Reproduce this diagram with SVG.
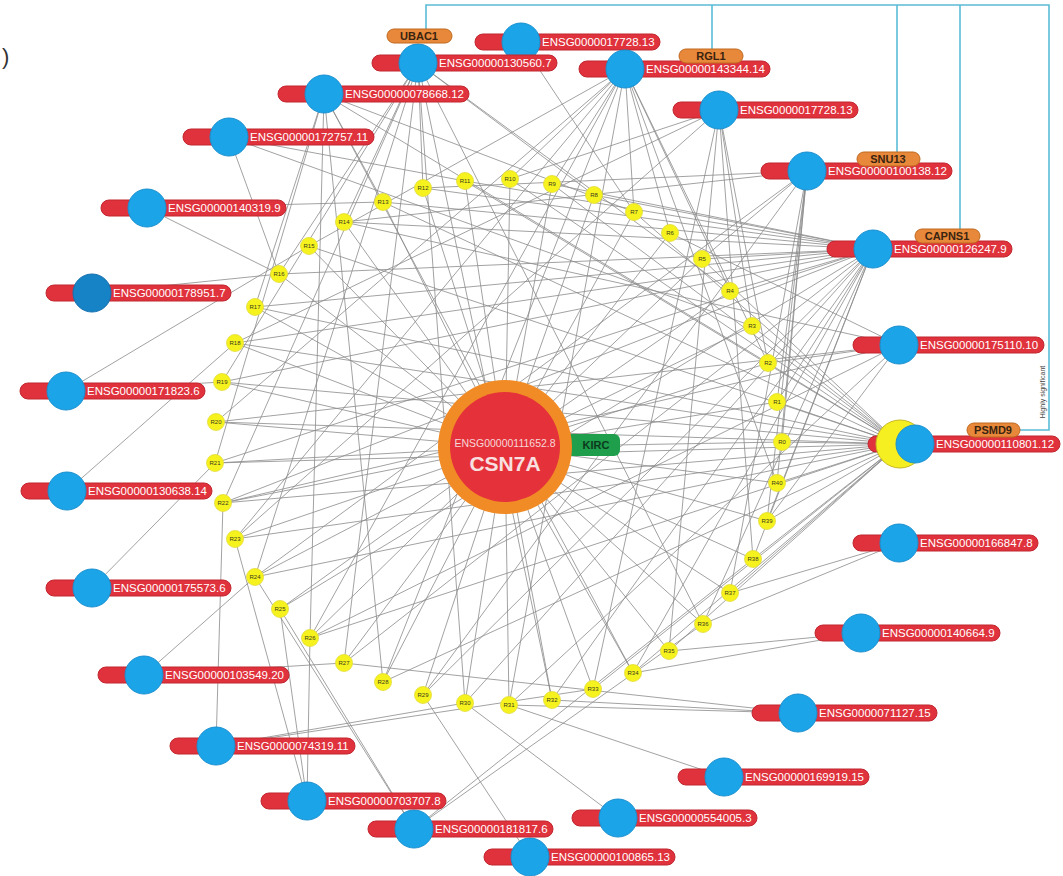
<svg xmlns="http://www.w3.org/2000/svg" width="1063" height="876" viewBox="0 0 1063 876">
<style>
  .e{stroke:#8a8a8a;stroke-width:0.8;fill:none}
  .pill{fill:#e0323c;stroke:#c1262f;stroke-width:1}
  .gc{fill:#1ba5e8;stroke:#1a8fcf;stroke-width:1}
  .gt{font-family:"Liberation Sans",Arial,sans-serif;font-size:11.5px;fill:#ffffff}
  .rn{fill:#f6f21e;stroke:#e2dc3a;stroke-width:0.8}
  .rt{font-family:"Liberation Sans",Arial,sans-serif;font-size:6px;fill:#3a3a1a;text-anchor:middle}
  .tag{fill:#e8883a;stroke:#c0681f;stroke-width:1}
  .tt{font-family:"Liberation Sans",Arial,sans-serif;font-size:11px;font-weight:bold;fill:#3a2410;text-anchor:middle}
  .sig{stroke:#5bbcd6;stroke-width:1.6;fill:none}
</style>
<rect width="1063" height="876" fill="#ffffff"/>
<text x="2" y="64" font-family="Liberation Sans, Arial, sans-serif" font-size="22" fill="#333">)</text>

<!-- connectors -->
<g id="connectors">
  <path class="e" id="e-csn7a" d="M505 447L782 442M505 447L777 402M505 447L768 363M505 447L752 326M505 447L730 291M505 447L702 259M505 447L670 233M505 447L634 212M505 447L594 195M505 447L552 184M505 447L510 179M505 447L465 181M505 447L423 188M505 447L383 202M505 447L344 222M505 447L309 246M505 447L279 274M505 447L255 307M505 447L235 343M505 447L222 382M505 447L216 422M505 447L215 463M505 447L223 503M505 447L235 539M505 447L255 577M505 447L280 609M505 447L310 638M505 447L344 663M505 447L383 682M505 447L423 695M505 447L465 703M505 447L509 705M505 447L552 700M505 447L593 689M505 447L633 673M505 447L669 651M505 447L703 624M505 447L730 593M505 447L753 559M505 447L767 521M505 447L777 483"/>
  <path class="e" id="e-g1" d="M418 63L344 222M418 63L279 274M418 63L222 382M418 63L255 577M418 63L344 663M418 63L465 703M418 63L552 700M418 63L703 624M418 63L730 291M418 63L594 195M418 63L423 188M418 63L223 503"/>
  <path class="e" id="e-g2" d="M521 42L634 212"/>
  <path class="e" id="e-g3" d="M625 69L552 184M625 69L510 179M625 69L634 212M625 69L730 291M625 69L670 233M625 69L768 363M625 69L216 422M625 69L383 682M625 69L509 705M625 69L310 638M625 69L777 483M625 69L309 246M625 69L235 539"/>
  <path class="e" id="e-g4" d="M719 110L752 326M719 110L768 363M719 110L753 559M719 110L669 651M719 110L235 343M719 110L510 179M719 110L235 539M719 110L593 689"/>
  <path class="e" id="e-g5" d="M807 171L782 442M807 171L777 402M807 171L777 483M807 171L767 521M807 171L344 222M807 171L423 188M807 171L255 577M807 171L423 695M807 171L702 259M807 171L730 593"/>
  <path class="e" id="e-g6" d="M873 249L777 402M873 249L730 291M873 249L702 259M873 249L594 195M873 249L552 184M873 249L465 181M873 249L423 188M873 249L383 202M873 249L344 222M873 249L279 274M873 249L255 307M873 249L235 343M873 249L222 382M873 249L215 463M873 249L223 503M873 249L280 609M873 249L344 663M873 249L423 695M873 249L552 700M873 249L703 624M873 249L753 559M873 249L767 521M873 249L465 703M873 249L633 673"/>
  <path class="e" id="e-g7" d="M899 345L768 363M899 345L670 233M899 345L216 422M899 345L310 638M899 345L767 521M899 345L344 222M899 345L223 503M899 345L509 705"/>
  <path class="e" id="e-g8" d="M900 444L782 442M900 444L777 402M900 444L768 363M900 444L752 326M900 444L510 179M900 444L383 202M900 444L309 246M900 444L255 307M900 444L235 343M900 444L222 382M900 444L216 422M900 444L215 463M900 444L223 503M900 444L235 539M900 444L255 577M900 444L310 638M900 444L383 682M900 444L593 689M900 444L633 673M900 444L669 651M900 444L730 593M900 444L753 559M900 444L767 521M900 444L777 483M900 444L552 184M900 444L634 212M900 444L702 259M900 444L465 181"/>
  <path class="e" id="e-g9" d="M899 543L703 624M899 543L730 593"/>
  <path class="e" id="e-g10" d="M861 633L633 673M861 633L669 651"/>
  <path class="e" id="e-g11" d="M798 713L344 663M798 713L509 705M798 713L552 700"/>
  <path class="e" id="e-g12" d="M724 777L509 705"/>
  <path class="e" id="e-g13" d="M618 818L465 703"/>
  <path class="e" id="e-g14" d="M530 857L423 695"/>
  <path class="e" id="e-g15" d="M414 829L280 609M414 829L255 577M414 829L703 624M414 829L753 559"/>
  <path class="e" id="e-g16" d="M307 801L280 609M307 801L310 638M307 801L235 539"/>
  <path class="e" id="e-g17" d="M216 746L223 503M216 746L465 703M216 746L593 689"/>
  <path class="e" id="e-g18" d="M144 675L255 577M144 675L344 663"/>
  <path class="e" id="e-g19" d="M92 588L215 463"/>
  <path class="e" id="e-g20" d="M67 491L235 343"/>
  <path class="e" id="e-g21" d="M66 391L309 246M66 391L222 382"/>
  <path class="e" id="e-g22" d="M92 293L279 274"/>
  <path class="e" id="e-g23" d="M147 208L279 274M147 208L383 202"/>
  <path class="e" id="e-g24" d="M229 137L279 274M229 137L752 326M229 137L465 181"/>
  <path class="e" id="e-g25" d="M324 94L255 307M324 94L215 463M324 94L310 638M324 94L383 682M324 94L633 673M324 94L634 212M324 94L768 363M324 94L383 202"/>
</g>

<!-- significance bracket -->
<g id="bracket">
  <path class="sig" d="M426 29V5H1049V430H1020M712 5V49M897 5V152M960 5V229"/>
  <text transform="translate(1045,392) rotate(-90)" font-family="Liberation Sans, Arial, sans-serif" font-size="7" fill="#444" text-anchor="middle">Highly significant</text>
</g>

<!-- R nodes -->
<g id="r-nodes">
  <g id="R0"><circle class="rn" cx="782" cy="442" r="8.5"/><text class="rt" x="782" y="444">R0</text></g>
  <g id="R1"><circle class="rn" cx="777" cy="402" r="8.5"/><text class="rt" x="777" y="404">R1</text></g>
  <g id="R2"><circle class="rn" cx="768" cy="363" r="8.5"/><text class="rt" x="768" y="365">R2</text></g>
  <g id="R3"><circle class="rn" cx="752" cy="326" r="8.5"/><text class="rt" x="752" y="328">R3</text></g>
  <g id="R4"><circle class="rn" cx="730" cy="291" r="8.5"/><text class="rt" x="730" y="293">R4</text></g>
  <g id="R5"><circle class="rn" cx="702" cy="259" r="8.5"/><text class="rt" x="702" y="261">R5</text></g>
  <g id="R6"><circle class="rn" cx="670" cy="233" r="8.5"/><text class="rt" x="670" y="235">R6</text></g>
  <g id="R7"><circle class="rn" cx="634" cy="212" r="8.5"/><text class="rt" x="634" y="214">R7</text></g>
  <g id="R8"><circle class="rn" cx="594" cy="195" r="8.5"/><text class="rt" x="594" y="197">R8</text></g>
  <g id="R9"><circle class="rn" cx="552" cy="184" r="8.5"/><text class="rt" x="552" y="186">R9</text></g>
  <g id="R10"><circle class="rn" cx="510" cy="179" r="8.5"/><text class="rt" x="510" y="181">R10</text></g>
  <g id="R11"><circle class="rn" cx="465" cy="181" r="8.5"/><text class="rt" x="465" y="183">R11</text></g>
  <g id="R12"><circle class="rn" cx="423" cy="188" r="8.5"/><text class="rt" x="423" y="190">R12</text></g>
  <g id="R13"><circle class="rn" cx="383" cy="202" r="8.5"/><text class="rt" x="383" y="204">R13</text></g>
  <g id="R14"><circle class="rn" cx="344" cy="222" r="8.5"/><text class="rt" x="344" y="224">R14</text></g>
  <g id="R15"><circle class="rn" cx="309" cy="246" r="8.5"/><text class="rt" x="309" y="248">R15</text></g>
  <g id="R16"><circle class="rn" cx="279" cy="274" r="8.5"/><text class="rt" x="279" y="276">R16</text></g>
  <g id="R17"><circle class="rn" cx="255" cy="307" r="8.5"/><text class="rt" x="255" y="309">R17</text></g>
  <g id="R18"><circle class="rn" cx="235" cy="343" r="8.5"/><text class="rt" x="235" y="345">R18</text></g>
  <g id="R19"><circle class="rn" cx="222" cy="382" r="8.5"/><text class="rt" x="222" y="384">R19</text></g>
  <g id="R20"><circle class="rn" cx="216" cy="422" r="8.5"/><text class="rt" x="216" y="424">R20</text></g>
  <g id="R21"><circle class="rn" cx="215" cy="463" r="8.5"/><text class="rt" x="215" y="465">R21</text></g>
  <g id="R22"><circle class="rn" cx="223" cy="503" r="8.5"/><text class="rt" x="223" y="505">R22</text></g>
  <g id="R23"><circle class="rn" cx="235" cy="539" r="8.5"/><text class="rt" x="235" y="541">R23</text></g>
  <g id="R24"><circle class="rn" cx="255" cy="577" r="8.5"/><text class="rt" x="255" y="579">R24</text></g>
  <g id="R25"><circle class="rn" cx="280" cy="609" r="8.5"/><text class="rt" x="280" y="611">R25</text></g>
  <g id="R26"><circle class="rn" cx="310" cy="638" r="8.5"/><text class="rt" x="310" y="640">R26</text></g>
  <g id="R27"><circle class="rn" cx="344" cy="663" r="8.5"/><text class="rt" x="344" y="665">R27</text></g>
  <g id="R28"><circle class="rn" cx="383" cy="682" r="8.5"/><text class="rt" x="383" y="684">R28</text></g>
  <g id="R29"><circle class="rn" cx="423" cy="695" r="8.5"/><text class="rt" x="423" y="697">R29</text></g>
  <g id="R30"><circle class="rn" cx="465" cy="703" r="8.5"/><text class="rt" x="465" y="705">R30</text></g>
  <g id="R31"><circle class="rn" cx="509" cy="705" r="8.5"/><text class="rt" x="509" y="707">R31</text></g>
  <g id="R32"><circle class="rn" cx="552" cy="700" r="8.5"/><text class="rt" x="552" y="702">R32</text></g>
  <g id="R33"><circle class="rn" cx="593" cy="689" r="8.5"/><text class="rt" x="593" y="691">R33</text></g>
  <g id="R34"><circle class="rn" cx="633" cy="673" r="8.5"/><text class="rt" x="633" y="675">R34</text></g>
  <g id="R35"><circle class="rn" cx="669" cy="651" r="8.5"/><text class="rt" x="669" y="653">R35</text></g>
  <g id="R36"><circle class="rn" cx="703" cy="624" r="8.5"/><text class="rt" x="703" y="626">R36</text></g>
  <g id="R37"><circle class="rn" cx="730" cy="593" r="8.5"/><text class="rt" x="730" y="595">R37</text></g>
  <g id="R38"><circle class="rn" cx="753" cy="559" r="8.5"/><text class="rt" x="753" y="561">R38</text></g>
  <g id="R39"><circle class="rn" cx="767" cy="521" r="8.5"/><text class="rt" x="767" y="523">R39</text></g>
  <g id="R40"><circle class="rn" cx="777" cy="483" r="8.5"/><text class="rt" x="777" y="485">R40</text></g>
</g>

<!-- central gene -->
<g id="csn7a">
  <rect x="560" y="434" width="60" height="22" rx="6" fill="#1f9e4c"/>
  <text x="596" y="449" font-family="Liberation Sans, Arial, sans-serif" font-size="11" font-weight="bold" fill="#0c3a1c" text-anchor="middle">KIRC</text>
  <circle cx="505" cy="447" r="67" fill="#f08b26"/>
  <circle cx="505" cy="447" r="55" fill="#e5323a"/>
  <text x="505" y="447" font-family="Liberation Sans, Arial, sans-serif" font-size="10.5" fill="#f6d8d8" text-anchor="middle">ENSG00000111652.8</text>
  <text x="505" y="471" font-family="Liberation Sans, Arial, sans-serif" font-size="21" font-weight="bold" fill="#f8e0e0" text-anchor="middle">CSN7A</text>
</g>

<!-- gene nodes (g2 first so the g1 label stays on top) -->
<g id="g2"><rect class="pill" x="475" y="34" width="185" height="16" rx="8"/><circle class="gc" cx="521" cy="42" r="19"/><text class="gt" x="542" y="46">ENSG0000017728.13</text></g>
<g id="g1"><rect class="pill" x="372" y="55" width="185" height="16" rx="8"/><circle class="gc" cx="418" cy="63" r="19"/><text class="gt" x="439" y="67">ENSG00000130560.7</text></g>
<g id="g3"><rect class="pill" x="579" y="61" width="191" height="16" rx="8"/><circle class="gc" cx="625" cy="69" r="19"/><text class="gt" x="646" y="73">ENSG00000143344.14</text></g>
<g id="g4"><rect class="pill" x="673" y="102" width="185" height="16" rx="8"/><circle class="gc" cx="719" cy="110" r="19"/><text class="gt" x="740" y="114">ENSG0000017728.13</text></g>
<g id="g5"><rect class="pill" x="761" y="163" width="191" height="16" rx="8"/><circle class="gc" cx="807" cy="171" r="19"/><text class="gt" x="828" y="175">ENSG00000100138.12</text></g>
<g id="g6"><rect class="pill" x="827" y="241" width="185" height="16" rx="8"/><circle class="gc" cx="873" cy="249" r="19"/><text class="gt" x="894" y="253">ENSG00000126247.9</text></g>
<g id="g7"><rect class="pill" x="853" y="337" width="191" height="16" rx="8"/><circle class="gc" cx="899" cy="345" r="19"/><text class="gt" x="920" y="349">ENSG00000175110.10</text></g>
<g id="g8"><rect class="pill" x="868" y="436" width="192" height="16" rx="8"/><circle cx="900" cy="444" r="24" fill="#f5ef22" stroke="#c8b820" stroke-width="1"/><circle class="gc" cx="915" cy="444" r="19"/><text class="gt" x="936" y="448">ENSG00000110801.12</text></g>
<g id="g9"><rect class="pill" x="853" y="535" width="185" height="16" rx="8"/><circle class="gc" cx="899" cy="543" r="19"/><text class="gt" x="920" y="547">ENSG00000166847.8</text></g>
<g id="g10"><rect class="pill" x="815" y="625" width="185" height="16" rx="8"/><circle class="gc" cx="861" cy="633" r="19"/><text class="gt" x="882" y="637">ENSG00000140664.9</text></g>
<g id="g11"><rect class="pill" x="752" y="705" width="185" height="16" rx="8"/><circle class="gc" cx="798" cy="713" r="19"/><text class="gt" x="819" y="717">ENSG0000071127.15</text></g>
<g id="g12"><rect class="pill" x="678" y="769" width="191" height="16" rx="8"/><circle class="gc" cx="724" cy="777" r="19"/><text class="gt" x="745" y="781">ENSG00000169919.15</text></g>
<g id="g13"><rect class="pill" x="572" y="810" width="185" height="16" rx="8"/><circle class="gc" cx="618" cy="818" r="19"/><text class="gt" x="639" y="822">ENSG00000554005.3</text></g>
<g id="g14"><rect class="pill" x="484" y="849" width="191" height="16" rx="8"/><circle class="gc" cx="530" cy="857" r="19"/><text class="gt" x="551" y="861">ENSG00000100865.13</text></g>
<g id="g15"><rect class="pill" x="368" y="821" width="185" height="16" rx="8"/><circle class="gc" cx="414" cy="829" r="19"/><text class="gt" x="435" y="833">ENSG00000181817.6</text></g>
<g id="g16"><rect class="pill" x="261" y="793" width="185" height="16" rx="8"/><circle class="gc" cx="307" cy="801" r="19"/><text class="gt" x="328" y="805">ENSG00000703707.8</text></g>
<g id="g17"><rect class="pill" x="170" y="738" width="185" height="16" rx="8"/><circle class="gc" cx="216" cy="746" r="19"/><text class="gt" x="237" y="750">ENSG0000074319.11</text></g>
<g id="g18"><rect class="pill" x="98" y="667" width="191" height="16" rx="8"/><circle class="gc" cx="144" cy="675" r="19"/><text class="gt" x="165" y="679">ENSG00000103549.20</text></g>
<g id="g19"><rect class="pill" x="46" y="580" width="185" height="16" rx="8"/><circle class="gc" cx="92" cy="588" r="19"/><text class="gt" x="113" y="592">ENSG00000175573.6</text></g>
<g id="g20"><rect class="pill" x="21" y="483" width="191" height="16" rx="8"/><circle class="gc" cx="67" cy="491" r="19"/><text class="gt" x="88" y="495">ENSG00000130638.14</text></g>
<g id="g21"><rect class="pill" x="20" y="383" width="185" height="16" rx="8"/><circle class="gc" cx="66" cy="391" r="19"/><text class="gt" x="87" y="395">ENSG00000171823.6</text></g>
<g id="g22"><rect class="pill" x="46" y="285" width="185" height="16" rx="8"/><circle cx="92" cy="293" r="19" fill="#1683c6" stroke="#146fae" stroke-width="1"/><text class="gt" x="113" y="297">ENSG00000178951.7</text></g>
<g id="g23"><rect class="pill" x="101" y="200" width="185" height="16" rx="8"/><circle class="gc" cx="147" cy="208" r="19"/><text class="gt" x="168" y="212">ENSG00000140319.9</text></g>
<g id="g24"><rect class="pill" x="183" y="129" width="191" height="16" rx="8"/><circle class="gc" cx="229" cy="137" r="19"/><text class="gt" x="250" y="141">ENSG00000172757.11</text></g>
<g id="g25"><rect class="pill" x="278" y="86" width="191" height="16" rx="8"/><circle class="gc" cx="324" cy="94" r="19"/><text class="gt" x="345" y="98">ENSG00000078668.12</text></g>

<!-- gene symbol tags -->
<g id="tag-ubac1"><rect class="tag" x="387" y="29" width="65" height="14" rx="7"/><text class="tt" x="419" y="40">UBAC1</text></g>
<g id="tag-rgl1"><rect class="tag" x="679" y="49" width="64" height="14" rx="7"/><text class="tt" x="711" y="60">RGL1</text></g>
<g id="tag-snu13"><rect class="tag" x="857" y="152" width="63" height="14" rx="7"/><text class="tt" x="888" y="163">SNU13</text></g>
<g id="tag-capns1"><rect class="tag" x="915" y="229" width="65" height="14" rx="7"/><text class="tt" x="947" y="240">CAPNS1</text></g>
<g id="tag-psmd9"><rect class="tag" x="967" y="423" width="53" height="14" rx="7"/><text class="tt" x="993" y="434">PSMD9</text></g>
</svg>
